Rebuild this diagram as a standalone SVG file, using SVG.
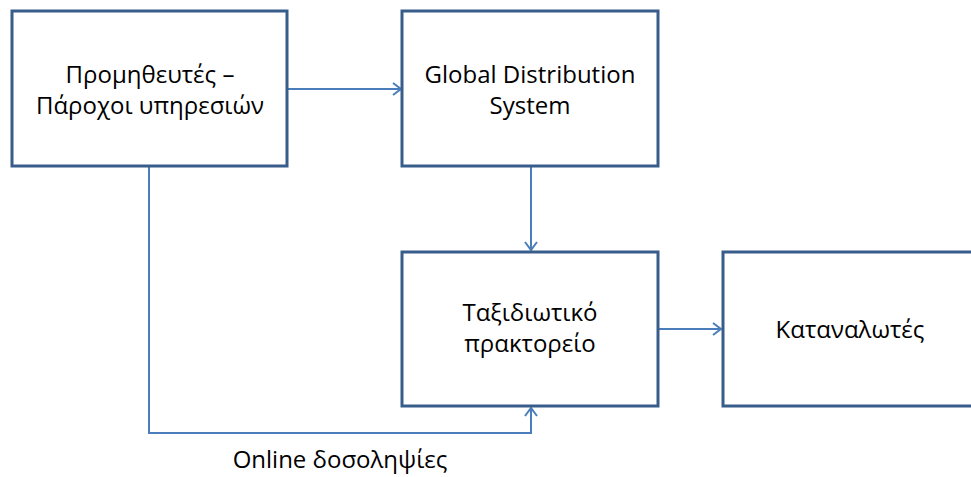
<svg xmlns="http://www.w3.org/2000/svg" width="971" height="477" viewBox="0 0 971 477">
<style>
.box{fill:#fff;stroke:#385D8A;stroke-width:3}
.t{font-family:"Open Sans","Noto Sans","Liberation Sans",sans-serif;font-size:24px;fill:#000;text-anchor:middle}
.c{fill:none;stroke:#4A7EBB;stroke-width:2}
</style>
<defs>
<marker id="a" markerWidth="14" markerHeight="14" refX="11" refY="7" orient="auto" markerUnits="userSpaceOnUse">
<path d="M3,1 L11,7 L3,13" fill="none" stroke="#4A7EBB" stroke-width="2"/>
</marker>
</defs>
<g id="connectors">
<path class="c" d="M287,89 H401" marker-end="url(#a)"/>
<path class="c" d="M531,166 V250" marker-end="url(#a)"/>
<path class="c" d="M659,329 H721" marker-end="url(#a)"/>
<path class="c" d="M149,166 V433 H531 V408" marker-end="url(#a)"/>
<text class="t" x="340" y="468">Online δοσοληψίες</text>
</g>
<g id="n1"><rect class="box" x="12" y="11" width="275" height="155"/>
<text class="t" x="150" y="83">Προμηθευτές –</text><text class="t" x="150" y="114">Πάροχοι υπηρεσιών</text></g>
<g id="n2"><rect class="box" x="402" y="11" width="256" height="155"/>
<text class="t" x="530" y="83">Global Distribution</text><text class="t" x="530" y="114">System</text></g>
<g id="n3"><rect class="box" x="402" y="252" width="256" height="154"/>
<text class="t" x="530" y="321">Ταξιδιωτικό</text><text class="t" x="530" y="352">πρακτορείο</text></g>
<g id="n4"><rect class="box" x="723" y="252" width="260" height="154"/>
<text class="t" x="850" y="338">Καταναλωτές</text></g>
</svg>
